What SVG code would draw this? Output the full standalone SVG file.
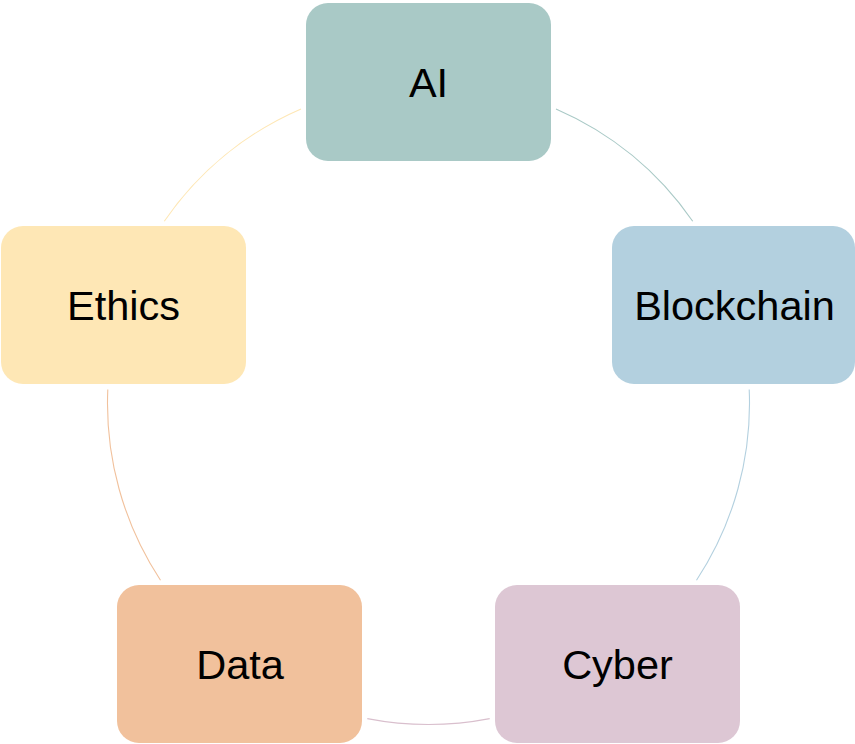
<svg xmlns="http://www.w3.org/2000/svg" width="855" height="744" viewBox="0 0 855 744">
<style>
.box{stroke:none}
.lbl{font-family:"Liberation Sans",Arial,Helvetica,sans-serif;font-size:41.5px;fill:#000;text-anchor:middle}
.arc{fill:none;stroke-width:1.1}
</style>
<rect width="855" height="744" fill="#ffffff"/>
<g id="connectors">
<path class="arc" stroke="#a9c9c6" d="M556.0,108.9 A321,321 0 0 1 692.7,221.2"/>
<path class="arc" stroke="#b3d0df" d="M749.2,389.5 A321,321 0 0 1 696.5,580.2"/>
<path class="arc" stroke="#d9bfcd" d="M489.7,718.6 A321,321 0 0 1 367.3,718.6"/>
<path class="arc" stroke="#f1c19c" d="M160.5,580.2 A321,321 0 0 1 107.8,389.5"/>
<path class="arc" stroke="#fee7b5" d="M164.3,221.2 A321,321 0 0 1 301.0,108.9"/>
</g>
<g id="node-ai">
<rect class="box" x="306" y="3" width="245" height="158" rx="22" fill="#a9c9c6"/>
<text class="lbl" x="428.5" y="96.5">AI</text>
</g>
<g id="node-blockchain">
<rect class="box" x="612" y="226" width="243" height="158" rx="22" fill="#b3d0df"/>
<text class="lbl" x="734.5" y="319.5">Blockchain</text>
</g>
<g id="node-cyber">
<rect class="box" x="495" y="585" width="245" height="158" rx="22" fill="#ddc7d4"/>
<text class="lbl" x="617.5" y="678.5">Cyber</text>
</g>
<g id="node-data">
<rect class="box" x="117" y="585" width="245" height="158" rx="22" fill="#f1c19c"/>
<text class="lbl" x="240" y="678.5">Data</text>
</g>
<g id="node-ethics">
<rect class="box" x="1" y="226" width="245" height="158" rx="22" fill="#fee7b5"/>
<text class="lbl" x="123.5" y="319.5">Ethics</text>
</g>
</svg>
